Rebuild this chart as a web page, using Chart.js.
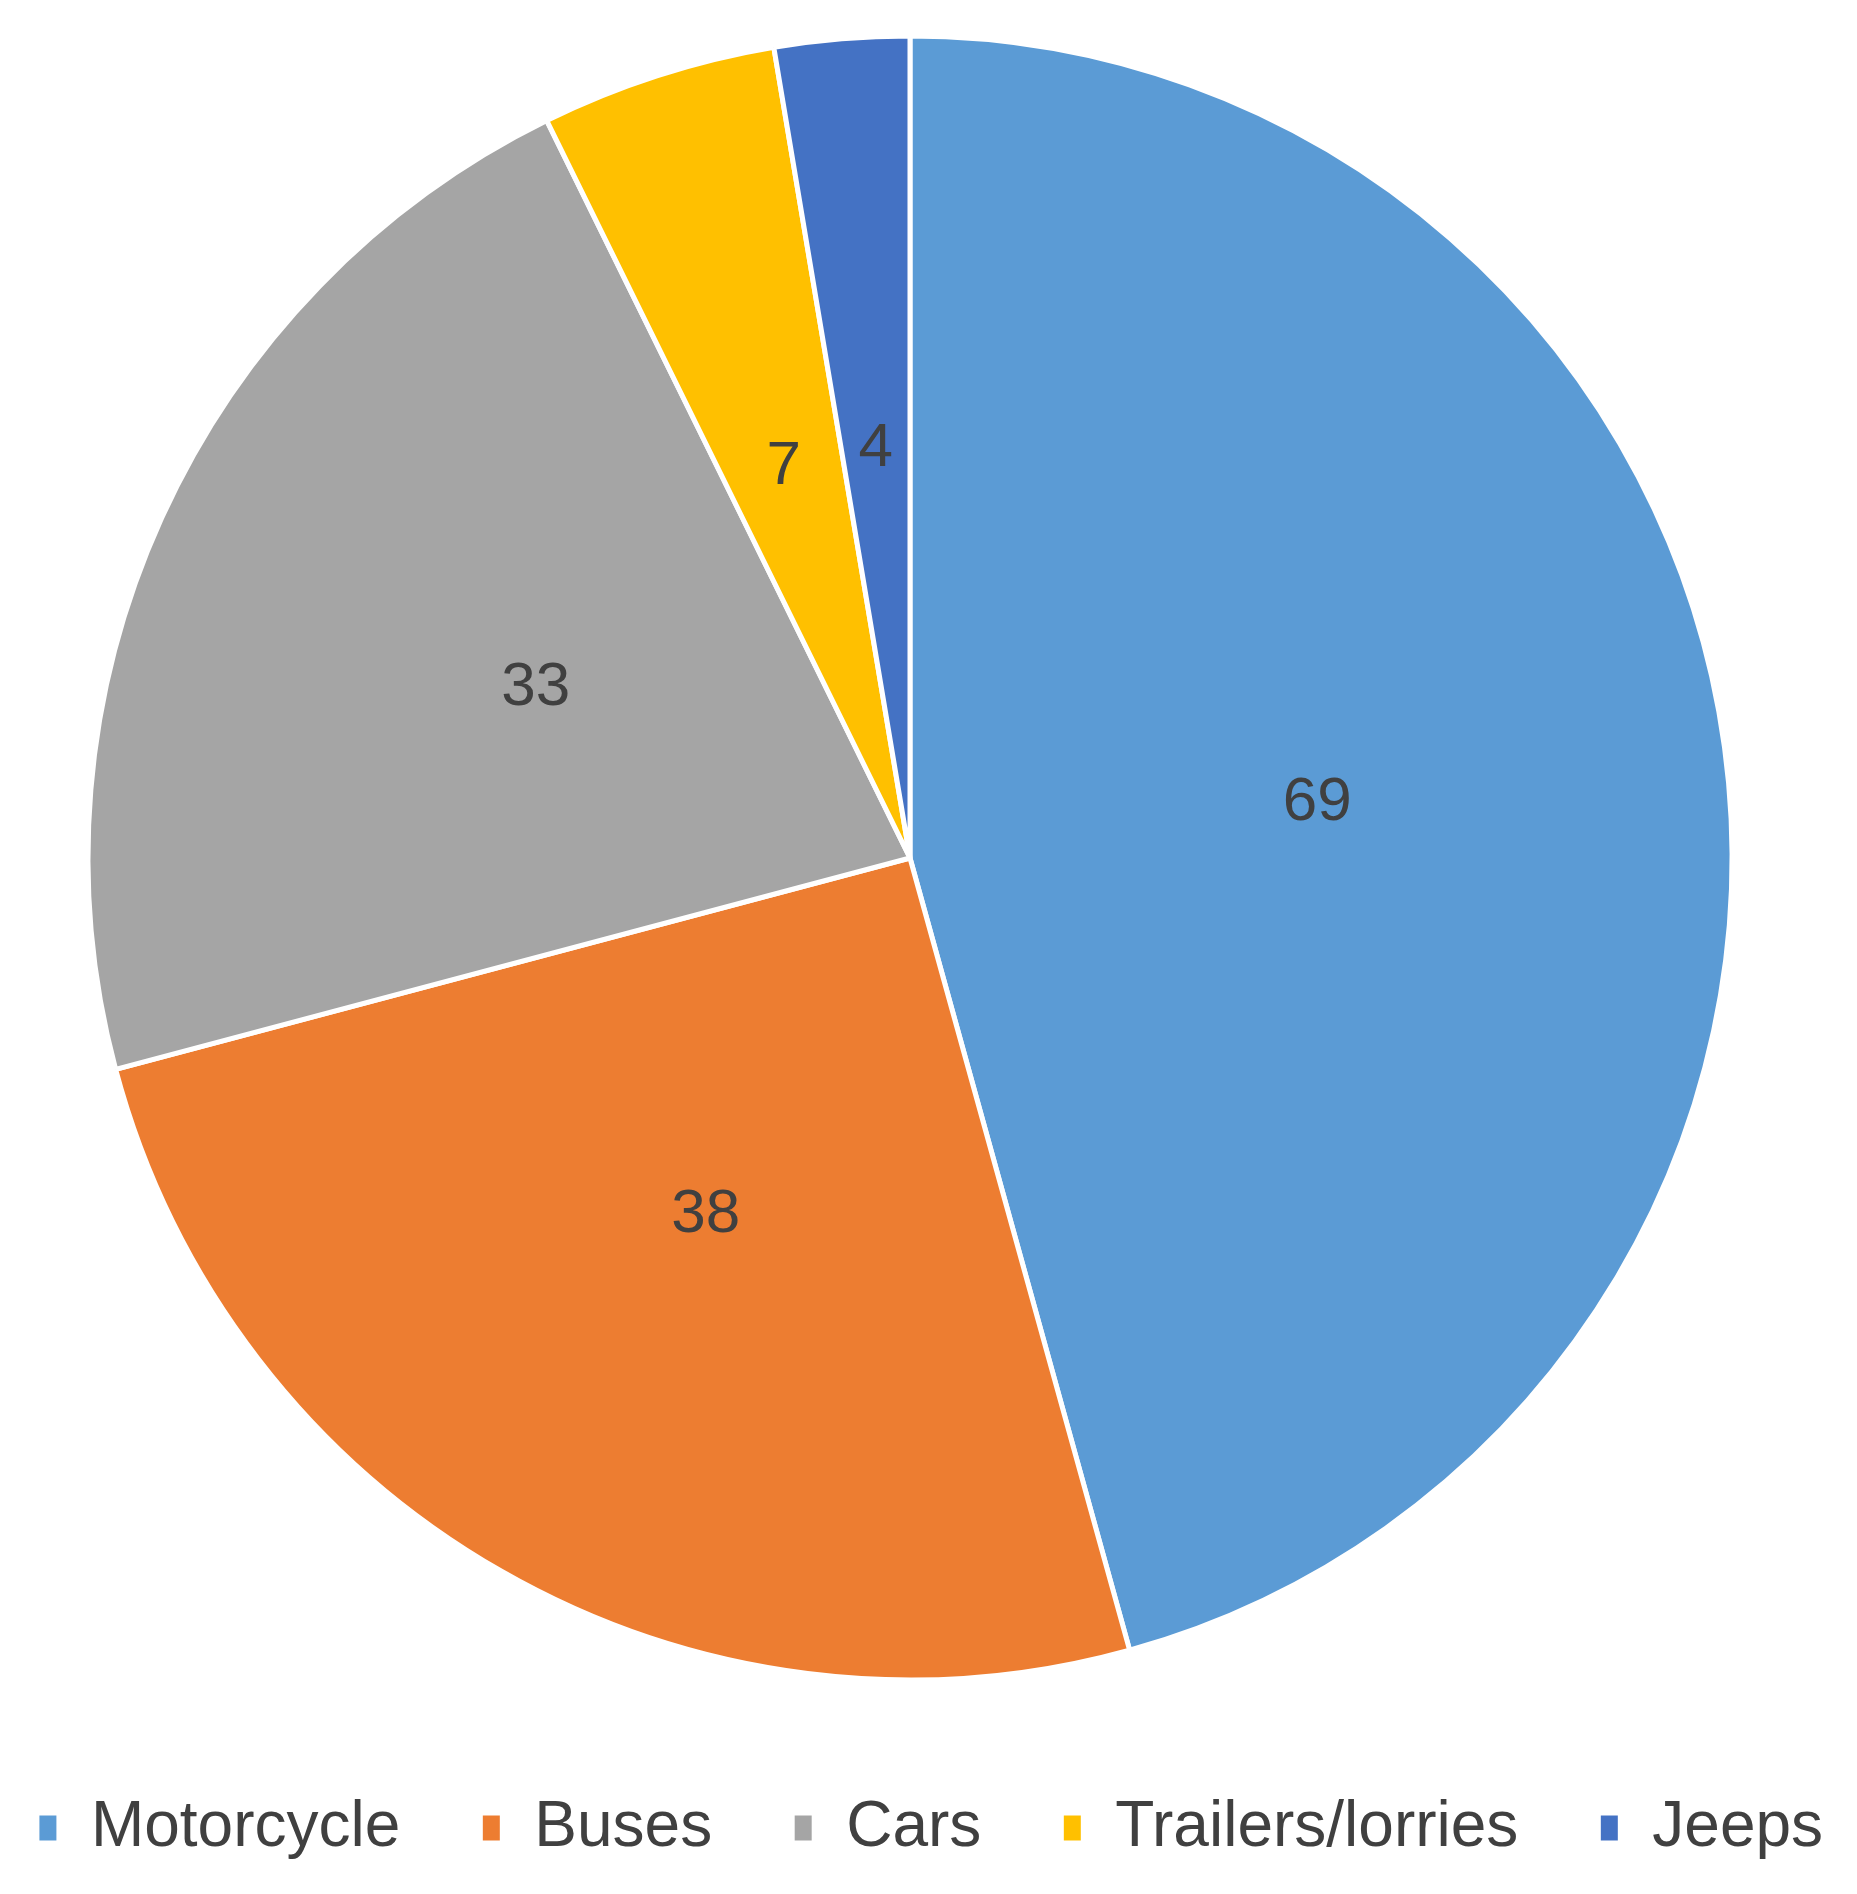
<!DOCTYPE html>
<html>
<head>
<meta charset="utf-8">
<script src="https://cdn.jsdelivr.net/npm/chart.js@4"></script>
<style>
    html, body { margin: 0; padding: 0; background: #fff; overflow: hidden; }
    #wrap { position: absolute; left: -70px; top: 0; width: 1960px; height: 1894px; }
</style>
</head>
<body>
<div id="wrap"><canvas id="theChart" width="1960" height="1894"></canvas></div>
<script>
const categories = ["Motorcycle", "Buses", "Cars", "Trailers/lorries", "Jeeps"];
const counts = [69, 38, 33, 7, 4];
const sliceColors = ["#5B9BD5", "#ED7D31", "#A5A5A5", "#FFC000", "#4472C4"];

// draws the value in the middle of each slice (no datalabels plugin offline)
const sliceLabels = {
    id: "sliceLabels",
    afterDatasetsDraw(chart) {
        const ctx = chart.ctx;
        const meta = chart.getDatasetMeta(0);
        ctx.save();
        ctx.font = "62px 'Liberation Sans', Arial, sans-serif";
        ctx.fillStyle = "#404040";
        ctx.textAlign = "center";
        ctx.textBaseline = "middle";
        meta.data.forEach((arc, i) => {
            const pos = arc.getCenterPoint();
            ctx.fillText(String(chart.data.datasets[0].data[i]), pos.x, pos.y);
        });
        ctx.restore();
    }
};

// legend centring counts the trailing padding, nudge it back to the middle
const legendNudge = {
    id: "legendNudge",
    afterLayout(chart) {
        chart.legend.left += 20;
        chart.legend.right += 20;
    }
};

const ctx = document.getElementById("theChart");
new Chart(ctx, {
    type: "pie",
    data: {
        labels: categories,
        datasets: [{
            data: counts,
            backgroundColor: sliceColors,
            borderColor: "#ffffff",
            borderWidth: 5,
            radius: 822,
        }],
    },
    options: {
        responsive: false,
        animation: false,
        layout: {
            padding: { top: 0, bottom: 24, left: 0, right: 0 },
        },
        plugins: {
            legend: {
                position: "bottom",
                labels: {
                    boxWidth: 22,
                    boxHeight: 30,
                    padding: 80,
                    color: "#404040",
                    font: { size: 64, family: "'Liberation Sans', Arial, sans-serif" },
                },
            },
            tooltip: { enabled: false },
        },
    },
    plugins: [sliceLabels, legendNudge],
});
</script>
</body>
</html>
